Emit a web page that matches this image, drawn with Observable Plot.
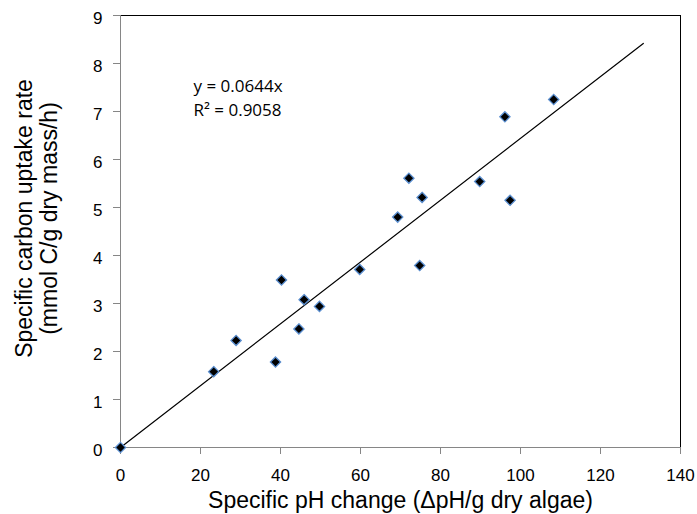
<!DOCTYPE html>
<html><head><meta charset="utf-8">
<script src="https://cdn.jsdelivr.net/npm/d3@7"></script>
<script src="https://cdn.jsdelivr.net/npm/@observablehq/plot@0.6"></script>
<style>body{margin:0;background:#fff}</style>
</head><body><div id="chart"></div>
<script>
const phChange = [0, 23.3, 28.9, 38.75, 40.25, 44.6, 45.9, 49.75, 59.8, 69.3, 72.1, 74.8, 75.4, 89.8, 96.1, 97.4, 108.3];
const uptake   = [0, 1.58, 2.23, 1.78, 3.49, 2.47, 3.08, 2.94, 3.71, 4.80, 5.61, 3.79, 5.21, 5.54, 6.89, 5.15, 7.25];
const slope = 0.0644;
const trendX = [0, 130.7];
const xTicks = [0, 20, 40, 60, 80, 100, 120, 140];
const yTicks = [0, 1, 2, 3, 4, 5, 6, 7, 8, 9];
const eqLines = ["y = 0.0644x", "R² = 0.9058"];

const pts = phChange.map((x, i) => ({x, y: uptake[i]}));
const trend = trendX.map(x => ({x, y: slope * x}));
const F = "Liberation Sans, Arial, sans-serif";

const plot = Plot.plot({
  width: 697, height: 514,
  marginLeft: 120, marginRight: 17, marginTop: 15, marginBottom: 67,
  style: {fontFamily: F, fontSize: "17px", color: "#000", background: "#fff"},
  x: {domain: [0, 140], ticks: xTicks},
  y: {domain: [0, 9], ticks: yTicks},
  marks: [
    Plot.frame({anchor: "top", stroke: "#000"}),
    Plot.frame({anchor: "right", stroke: "#000"}),
    Plot.axisX({ticks: xTicks, tickSize: 7, tickPadding: 14, stroke: "#868686", label: null, fontSize: 17, fill: "#000"}),
    Plot.axisY({ticks: yTicks, tickSize: 7, text: null, stroke: "#868686", label: null}),
    Plot.axisY({ticks: yTicks, tickSize: 0, tickPadding: 18, dy: 3, label: null, fontSize: 17, fill: "#000"}),
    Plot.ruleX([0], {stroke: "#868686"}),
    Plot.ruleY([0], {stroke: "#868686"}),
    Plot.line(trend, {x: "x", y: "y", stroke: "#000", strokeWidth: 1.2}),
    Plot.dot(pts, {x: "x", y: "y", symbol: "diamond2", r: 4.6, fill: "#000", stroke: "#5b8fd0", strokeWidth: 1.3}),
    Plot.text([eqLines.join("\n")], {x: 18.25, y: 7.75, text: d => d, textAnchor: "start", lineAnchor: "top", lineHeight: 1.39, fontFamily: "Open Sans, sans-serif", fontSize: 17, fill: "#000"}),
    Plot.text(["Specific pH change (ΔpH/g dry algae)"], {frameAnchor: "bottom", lineAnchor: "middle", textAnchor: "middle", dy: 53.6, fontSize: 23, fill: "#000"}),
    Plot.text(["Specific carbon uptake rate"], {frameAnchor: "left", textAnchor: "middle", lineAnchor: "middle", dx: -95.4, dy: -13, rotate: -90, fontSize: 23, fill: "#000"}),
    Plot.text(["(mmol C/g dry mass/h)"], {frameAnchor: "left", textAnchor: "middle", lineAnchor: "middle", dx: -70.4, dy: -13, rotate: -90, fontSize: 23, fill: "#000"})
  ]
});
document.getElementById("chart").appendChild(plot);
</script>
</body></html>
